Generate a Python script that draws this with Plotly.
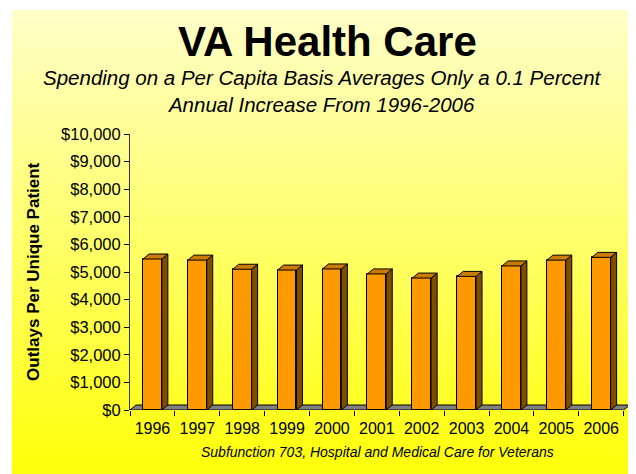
import plotly.graph_objects as go

# ---- data ----
years = ["1996", "1997", "1998", "1999", "2000", "2001", "2002", "2003", "2004", "2005", "2006"]
outlays = [5470, 5430, 5100, 5070, 5110, 4930, 4780, 4840, 5220, 5430, 5530]
y_ticks = [0, 1000, 2000, 3000, 4000, 5000, 6000, 7000, 8000, 9000, 10000]
y_tick_labels = ["$0", "$1,000", "$2,000", "$3,000", "$4,000", "$5,000",
                 "$6,000", "$7,000", "$8,000", "$9,000", "$10,000"]

title_text = "VA Health Care"
subtitle_text = "Spending on a Per Capita Basis Averages Only a 0.1 Percent<br>Annual Increase From 1996-2006"
y_title = "Outlays Per Unique Patient"
footnote = "Subfunction 703, Hospital and Medical Care for Veterans"

# ---- layout geometry (page body has an 8px margin) ----
OFF = 8
W, H = 628, 466
ML = 130 - OFF
MT = 134 - OFF
MB = H - (410 - OFF)
UNIT_PX = 44.85                      # px per category
X0 = -0.5
RIGHT_SCREEN = 628.7
MR = W - (RIGHT_SCREEN - OFF)
PW, PH = W - ML - MR, H - MT - MB
X1 = X0 + PW / UNIT_PX
YMAX = 10000
BAR_W = 0.42
DX = 6 / UNIT_PX                     # 3D depth in x units
DY = 5 * YMAX / PH                   # 3D depth in y units

FONT = "Liberation Sans, Arial, sans-serif"


def px_x(xs_):
    """screen x -> paper x"""
    return (xs_ - OFF - ML) / PW


def px_y(ys_):
    """screen y -> paper y"""
    return (H - MB - (ys_ - OFF)) / PH


xs = list(range(len(years)))

fig = go.Figure()

# front faces
fig.add_trace(go.Bar(
    x=xs, y=outlays, width=BAR_W,
    marker=dict(color="#FF9900", line=dict(color="#000000", width=1)),
    hoverinfo="skip", showlegend=False,
))

# side and top faces derived from the values
side_x, side_y, top_x, top_y = [], [], [], []
for i, v in zip(xs, outlays):
    a, b = i - BAR_W / 2, i + BAR_W / 2
    side_x += [b, b, b + DX, b + DX, b, None]
    side_y += [0, v, v + DY, DY, 0, None]
    top_x += [a, b, b + DX, a + DX, a, None]
    top_y += [v, v, v + DY, v + DY, v, None]

fig.add_trace(go.Scatter(
    x=side_x, y=side_y, mode="lines", fill="toself",
    fillcolor="#7F4C00", line=dict(color="#000000", width=1),
    hoverinfo="skip", showlegend=False,
))
fig.add_trace(go.Scatter(
    x=top_x, y=top_y, mode="lines", fill="toself",
    fillcolor="#CC7A00", line=dict(color="#000000", width=1),
    hoverinfo="skip", showlegend=False,
))

shapes = []
# background gradient (light yellow to yellow), screen coords 12..636 x 10..474
top_px, bot_px = 10, 474
n = 116
step = (bot_px - top_px) / n
for k in range(n):
    t = k / (n - 1)
    b = int(round(200 - 190 * t))
    y_a = top_px + k * step
    y_b = min(y_a + step + 0.8, bot_px + 2)
    shapes.append(dict(
        type="rect", xref="paper", yref="paper", layer="below",
        x0=px_x(12), x1=px_x(640), y0=px_y(y_b), y1=px_y(y_a),
        fillcolor=f"rgb(255,255,{b})", line=dict(width=0),
    ))

# floor
n_cat = len(years)
shapes.append(dict(
    type="path", xref="x", yref="y", layer="below",
    path=(f"M {X0},0 L {X0 + n_cat},0 L {X0 + n_cat + DX},{DY} "
          f"L {X0 + DX},{DY} Z"),
    fillcolor="#808080", line=dict(color="#000000", width=1),
))

annotations = [
    dict(text=f"<b>{title_text}</b>", xref="paper", yref="paper",
         x=px_x(327), y=px_y(41), xanchor="center", yanchor="middle",
         showarrow=False, font=dict(family=FONT, size=42, color="#000000")),
    dict(text=f"<i>{subtitle_text}</i>", xref="paper", yref="paper",
         x=px_x(322), y=px_y(91), xanchor="center", yanchor="middle",
         showarrow=False, font=dict(family=FONT, size=20.5, color="#000000")),
    dict(text=f"<b>{y_title}</b>", xref="paper", yref="paper",
         x=px_x(33), y=px_y(271), xanchor="center", yanchor="middle",
         textangle=-90, showarrow=False,
         font=dict(family=FONT, size=17, color="#000000")),
    dict(text=f"<i>{footnote}</i>", xref="paper", yref="paper",
         x=px_x(377), y=px_y(452), xanchor="center", yanchor="middle",
         showarrow=False, font=dict(family=FONT, size=14, color="#000000")),
]

fig.update_layout(
    width=W, height=H,
    margin=dict(l=ML, r=MR, t=MT, b=MB, pad=0),
    paper_bgcolor="#FFFFFF",
    plot_bgcolor="rgba(0,0,0,0)",
    shapes=shapes,
    annotations=annotations,
    showlegend=False,
    hovermode=False,
    bargap=0,
    xaxis=dict(
        range=[X0, X1], tickvals=xs, ticktext=years,
        ticks="outside", ticklen=4, tickcolor="rgba(0,0,0,0)",
        tickfont=dict(family=FONT, size=16, color="#000000"),
        showgrid=False, zeroline=False, showline=False,
        minor=dict(tickvals=[X0 + k for k in range(n_cat + 1)],
                   ticks="outside", ticklen=5, tickcolor="#000000",
                   tickwidth=1, showgrid=False),
        fixedrange=True,
    ),
    yaxis=dict(
        range=[0, YMAX], tickvals=y_ticks, ticktext=y_tick_labels,
        ticks="outside", ticklen=5, tickcolor="#000000",
        tickfont=dict(family=FONT, size=16.5, color="#000000"),
        showgrid=False, zeroline=False,
        showline=True, linecolor="#333333", linewidth=1,
        fixedrange=True,
    ),
)

fig.write_html("out.html")
